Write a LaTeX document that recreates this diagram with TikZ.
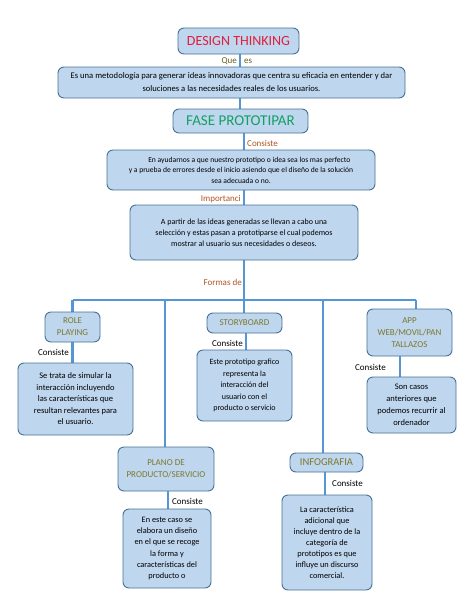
\documentclass[tikz,border=0pt]{standalone}
\usepackage{fontspec}
\setmainfont{Carlito}
\usetikzlibrary{positioning}
\usetikzlibrary{backgrounds}
\definecolor{relleno}{RGB}{190,214,238}
\definecolor{borde}{RGB}{72,112,150}
\definecolor{conector}{RGB}{86,150,212}
\definecolor{cafe}{RGB}{175,85,35}
\definecolor{oliva}{RGB}{125,120,45}
\definecolor{rojo}{RGB}{226,30,60}
\definecolor{verde}{RGB}{20,160,100}
\tikzstyle{caja} = [draw=borde, fill=relleno, rounded corners=6pt, line width=0.9pt, align=center, inner sep=1pt, text=black]
\tikzstyle{titulo} = [caja, text=oliva, font=\fontsize{9}{12}\selectfont]
\tikzstyle{linea} = [draw=conector, line width=2.6pt]
\tikzstyle{etiq} = [inner sep=1pt, font=\fontsize{9}{10}\selectfont]
\tikzstyle{texto} = [font=\fontsize{8.5}{11.5}\selectfont]

\begin{document}
\begin{tikzpicture}[x=1pt,y=-1pt]
\useasboundingbox (0,0) rectangle (474,613);

\node[caja, minimum width=121, minimum height=26, text=rojo, font=\fontsize{14}{16}\selectfont] (dt) at (238.5,41) {DESIGN THINKING};
\node[caja, minimum width=347, minimum height=31, font=\fontsize{8.6}{13}\selectfont] (metodo) at (231.5,82.5) {Es una metodología para generar ideas innovadoras que centra su eficacia en entender y dar\\soluciones a las necesidades reales de los usuarios.};
\node[caja, minimum width=135, minimum height=24, text=verde, font=\fontsize{15}{16}\selectfont] (fase) at (240.5,121) {FASE PROTOTIPAR};
\node[caja, minimum width=268, minimum height=40, font=\fontsize{7.6}{10.5}\selectfont] (consiste) at (241,170) {\hspace{2.2em}En ayudarnos a que nuestro prototipo o idea sea los mas perfecto\\y a prueba de errores desde el inicio asiendo que el diseño de la solución\\sea adecuada o no.};
\node[caja, minimum width=228, minimum height=55, font=\fontsize{8}{11}\selectfont] (partir) at (244,232.5) {A partir de las ideas generadas se llevan a cabo una\\selección y estas pasan a prototiparse el cual podemos\\mostrar al usuario sus necesidades o deseos.};

\node[titulo, minimum width=55, minimum height=30] (role) at (72.5,327) {ROLE\\PLAYING};
\node[caja, texto, minimum width=115, minimum height=72] (trata) at (75.5,399) {Se trata de simular la\\interacción incluyendo\\las características que\\resultan relevantes para\\el usuario.};
\node[titulo, minimum width=75, minimum height=20] (story) at (244.5,323) {STORYBOARD};
\node[caja, font=\fontsize{8}{11.5}\selectfont, minimum width=95, minimum height=71] (este) at (244.5,385.5) {Este prototipo grafico\\representa la\\interacción del\\usuario con el\\producto o servicio};
\node[titulo, minimum width=85, minimum height=47] (app) at (409.5,332.5) {APP\\WEB/MOVIL/PAN\\TALLAZOS};
\node[caja, font=\fontsize{8.5}{12}\selectfont, minimum width=89, minimum height=56] (casos) at (411.5,405) {Son casos\\anteriores que\\podemos recurrir al\\ordenador};
\node[titulo, minimum width=96, minimum height=44] (plano) at (166,469) {PLANO DE\\PRODUCTO/SERVICIO};
\node[caja, font=\fontsize{8.3}{11.3}\selectfont, minimum width=88, minimum height=79] (diseno) at (167,548.5) {En este caso se\\elabora un diseño\\en el que se recoge\\la forma y\\características del\\producto o};
\node[titulo, font=\fontsize{10.5}{12}\selectfont, minimum width=73, minimum height=19] (info) at (326.5,462.5) {INFOGRAFIA};
\node[caja, font=\fontsize{8.3}{11.1}\selectfont, minimum width=90, minimum height=95] (caract) at (327,542.5) {La característica\\adicional que\\incluye dentro de la\\categoría de\\prototipos es que\\influye un discurso\\comercial.};

% conectores
\coordinate (bar) at (244,300);
\coordinate (xa) at (240,0);
\coordinate (xplano) at (165,0);
\coordinate (xplanob) at (168,0);
\coordinate (xinfo) at (323,0);
\coordinate (xinfob) at (325,0);
\coordinate (xapp) at (416,0);
\coordinate (xappb) at (400,0);
\coordinate (xstory) at (246,0);
\begin{scope}[on background layer]
\draw[linea] (dt.south -| xa) -- (metodo.north -| xa);
\draw[linea] (metodo.south -| xa) -- (fase.north -| xa);
\draw[linea] (fase.south -| bar) -- (consiste.north -| bar);
\draw[linea] (consiste.south -| bar) -- (partir.north -| bar);
\draw[linea] (partir.south -| bar) -- (bar);
\draw[linea] (bar -| role.north) -- (bar -| xapp);
\draw[linea] (bar -| role.north) -- (role.north);
\draw[linea] (bar) -- (story.north -| bar);
\draw[linea] (bar -| xplano) -- (plano.north -| xplano);
\draw[linea] (bar -| xinfo) -- (info.north -| xinfo);
\draw[linea] (bar -| xapp) -- (app.north -| xapp);
\draw[linea] (role.south) -- (role.south |- trata.north);
\draw[linea] (story.south -| xstory) -- (este.north -| xstory);
\draw[linea] (app.south -| xappb) -- (casos.north -| xappb);
\draw[linea] (plano.south -| xplanob) -- (diseno.north -| xplanob);
\draw[linea] (info.south -| xinfob) -- (caract.north -| xinfob);
\end{scope}

% etiquetas
\node[etiq, anchor=east, text=oliva!80!black] (que) at (238,61) {Que};
\node[etiq, anchor=west, text=oliva!80!black] (es) at (243,61) {es};
\node[etiq, anchor=west, text=cafe] (lblfase) at (246,143) {Consiste};
\node[etiq, anchor=east, text=cafe] (lblimp) at (242,199) {Importanci};
\node[etiq, anchor=east, text=cafe] (lblformas) at (243,282) {Formas de};
\node[etiq, anchor=east] (lblrole) at (70,352) {Consiste};
\node[etiq, anchor=east] (lblstory) at (244,343) {Consiste};
\node[etiq, anchor=east] (lblapp) at (387,367) {Consiste};
\node[etiq, anchor=west] (lblplano) at (171,501) {Consiste};
\node[etiq, anchor=west] (lblinfo) at (331,483) {Consiste};
\end{tikzpicture}
\end{document}
